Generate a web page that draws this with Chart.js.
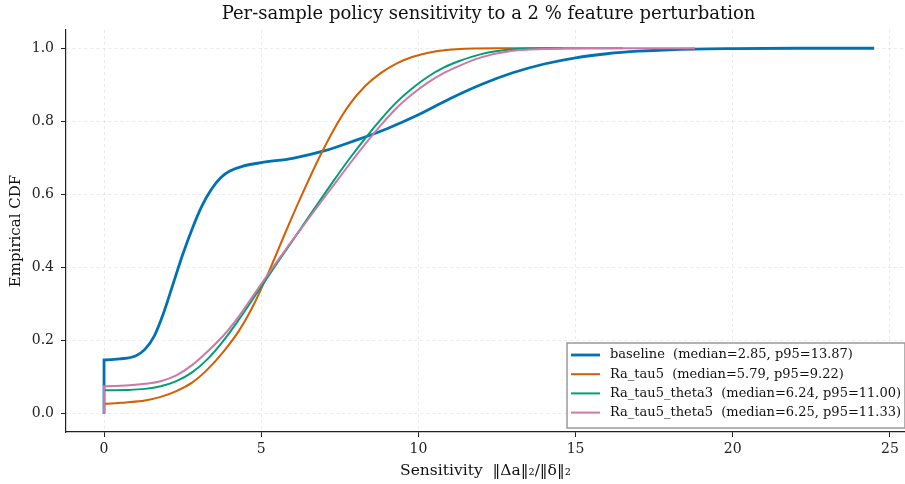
<!DOCTYPE html>
<html>
<head>
<meta charset="utf-8">
<script src="https://cdn.jsdelivr.net/npm/chart.js@4/dist/chart.umd.min.js"></script>
<style>
  html, body { margin: 0; padding: 0; background: #fff; }
  #wrap { width: 905px; height: 484px; }
</style>
</head>
<body>
<div id="wrap"><canvas id="cdfChart"></canvas></div>
<script>
// Series names and summary stats (legend)
const seriesNames = ['baseline', 'Ra_tau5', 'Ra_tau5_theta3', 'Ra_tau5_theta5'];
const seriesMedians = ['2.85', '5.79', '6.24', '6.25'];
const seriesP95 = ['13.87', '9.22', '11.00', '11.33'];
const seriesColors = ['#0072B2', '#D55E00', '#009E73', '#CC79A7'];

// Empirical CDF values
const baselineX = [0, 0, 0.5, 1.0, 1.3, 1.6, 1.9, 2.2, 2.5, 2.8, 3.1, 3.4, 3.7, 4.0, 4.4, 5.0, 6.0, 7.0, 8.0, 9.0, 10.0, 11.0, 12.0, 13.0, 14.0, 15.0, 16.0, 17.0, 18.0, 20.0, 22.0, 24.5];
const baselineY = [0, 0.147, 0.150, 0.158, 0.176, 0.213, 0.277, 0.356, 0.435, 0.505, 0.566, 0.612, 0.645, 0.664, 0.677, 0.687, 0.699, 0.719, 0.748, 0.780, 0.818, 0.862, 0.901, 0.933, 0.957, 0.974, 0.985, 0.992, 0.996, 0.999, 1.0, 1.0];

const tau5X = [0, 0, 0.7, 1.3, 1.8, 2.3, 2.8, 3.3, 3.8, 4.3, 4.8, 5.3, 5.8, 6.3, 6.8, 7.3, 7.8, 8.3, 8.8, 9.3, 9.8, 10.4, 11.2, 12.5, 14.6];
const tau5Y = [0, 0.027, 0.031, 0.036, 0.046, 0.062, 0.085, 0.122, 0.17, 0.228, 0.305, 0.40, 0.502, 0.60, 0.693, 0.776, 0.845, 0.896, 0.932, 0.958, 0.976, 0.989, 0.997, 1.0, 1.0];

const theta3X = [0, 0, 0.7, 1.3, 1.8, 2.3, 2.8, 3.3, 3.8, 4.3, 4.8, 5.3, 5.8, 6.3, 6.8, 7.3, 7.8, 8.3, 8.8, 9.3, 9.8, 10.3, 10.8, 11.3, 12.0, 13.0, 14.0, 16.5];
const theta3Y = [0, 0.064, 0.065, 0.068, 0.075, 0.089, 0.113, 0.15, 0.2, 0.259, 0.322, 0.386, 0.449, 0.512, 0.575, 0.637, 0.697, 0.753, 0.805, 0.852, 0.89, 0.922, 0.947, 0.965, 0.984, 0.997, 1.0, 1.0];

const theta5X = [0, 0, 0.7, 1.3, 1.8, 2.3, 2.8, 3.3, 3.8, 4.3, 4.8, 5.3, 5.8, 6.3, 6.8, 7.3, 7.8, 8.3, 8.8, 9.3, 9.8, 10.3, 10.8, 11.3, 12.0, 13.0, 14.0, 15.5, 18.8];
const theta5Y = [0, 0.075, 0.077, 0.082, 0.089, 0.105, 0.133, 0.171, 0.214, 0.268, 0.33, 0.392, 0.452, 0.51, 0.568, 0.625, 0.682, 0.737, 0.789, 0.836, 0.874, 0.906, 0.932, 0.952, 0.975, 0.993, 0.998, 1.0, 1.0];

// Tick labels
const xTicks = [0, 5, 10, 15, 20, 25];
const yTicks = [0.0, 0.2, 0.4, 0.6, 0.8, 1.0];

const SERIF = "'DejaVu Serif', serif";

function toPoints(xs, ys) {
  return xs.map((x, i) => ({ x: x, y: ys[i] }));
}

const seriesData = [
  toPoints(baselineX, baselineY),
  toPoints(tau5X, tau5Y),
  toPoints(theta3X, theta3Y),
  toPoints(theta5X, theta5Y)
];

const datasets = seriesNames.map((name, i) => ({
  label: name + '  (median=' + seriesMedians[i] + ', p95=' + seriesP95[i] + ')',
  data: seriesData[i],
  borderColor: seriesColors[i],
  backgroundColor: seriesColors[i],
  borderWidth: i === 0 ? 2.8 : 2,
  pointRadius: 0,
  fill: false,
  cubicInterpolationMode: 'monotone',
  order: seriesNames.length - i
}));

// Title + boxed legend, drawn like matplotlib does
const decorPlugin = {
  id: 'decor',
  afterDraw(chart) {
    const ctx = chart.ctx;
    const area = chart.chartArea;
    ctx.save();

    // title
    ctx.fillStyle = '#111';
    ctx.font = '18px ' + SERIF;
    ctx.textAlign = 'center';
    ctx.textBaseline = 'middle';
    ctx.fillText('Per-sample policy sensitivity to a 2 % feature perturbation', (area.left + area.right) / 2 + 3, 14);

    // legend
    const boxW = 338, rowH = 19.2, boxH = 85;
    const bx = area.right - boxW, by = area.bottom - boxH - 4;
    ctx.fillStyle = 'rgba(255,255,255,0.9)';
    ctx.strokeStyle = '#999';
    ctx.lineWidth = 1.5;
    ctx.beginPath();
    ctx.rect(bx, by, boxW, boxH);
    ctx.fill();
    ctx.stroke();

    ctx.font = '13px ' + SERIF;
    ctx.textAlign = 'left';
    chart.data.datasets.forEach((ds, i) => {
      const cy = by + 12 + i * rowH;
      ctx.strokeStyle = ds.borderColor;
      ctx.lineWidth = ds.borderWidth;
      ctx.beginPath();
      ctx.moveTo(bx + 4, cy);
      ctx.lineTo(bx + 33, cy);
      ctx.stroke();
      ctx.fillStyle = '#111';
      ctx.fillText(ds.label, bx + 43, cy);
    });
    ctx.restore();
  }
};

new Chart(document.getElementById('cdfChart'), {
  type: 'line',
  data: { datasets: datasets },
  plugins: [decorPlugin],
  options: {
    responsive: true,
    maintainAspectRatio: false,
    animation: false,
    layout: { padding: { top: 30, right: 0, left: 0, bottom: 0 } },
    plugins: {
      legend: { display: false },
      title: { display: false },
      tooltip: { enabled: false }
    },
    scales: {
      x: {
        type: 'linear',
        min: -1.21,
        max: 25.48,
        afterFit: (scale) => { scale.height = 52; },
        afterBuildTicks: (scale) => { scale.ticks = xTicks.map(v => ({ value: v })); },
        ticks: {
          color: '#222',
          font: { family: SERIF, size: 14 },
          padding: 4,
          maxRotation: 0,
          callback: (v) => String(v)
        },
        grid: {
          color: 'rgba(0,0,0,0.1)',
          lineWidth: 0.8,
          tickColor: '#222',
          tickLength: 5,
          tickWidth: 1
        },
        border: { display: true, color: '#222', width: 1.2, dash: [3, 3] },
        title: {
          display: true,
          text: 'Sensitivity  \u2016\u0394a\u2016\u2082/\u2016\u03b4\u2016\u2082',
          color: '#111',
          font: { family: SERIF, size: 15.5 },
          padding: { top: 0, bottom: 4 }
        }
      },
      y: {
        type: 'linear',
        min: -0.05,
        max: 1.05,
        afterFit: (scale) => { scale.width = 66; },
        afterBuildTicks: (scale) => { scale.ticks = yTicks.map(v => ({ value: v })); },
        ticks: {
          color: '#222',
          font: { family: SERIF, size: 14 },
          padding: 7,
          callback: (v) => v.toFixed(1)
        },
        grid: {
          color: 'rgba(0,0,0,0.1)',
          lineWidth: 0.8,
          tickColor: '#222',
          tickLength: 5,
          tickWidth: 1
        },
        border: { display: true, color: '#222', width: 1.2, dash: [3, 3] },
        title: {
          display: true,
          text: 'Empirical CDF',
          color: '#111',
          font: { family: SERIF, size: 15 },
          padding: { top: 7, bottom: 0 }
        }
      }
    }
  }
});
</script>
</body>
</html>
